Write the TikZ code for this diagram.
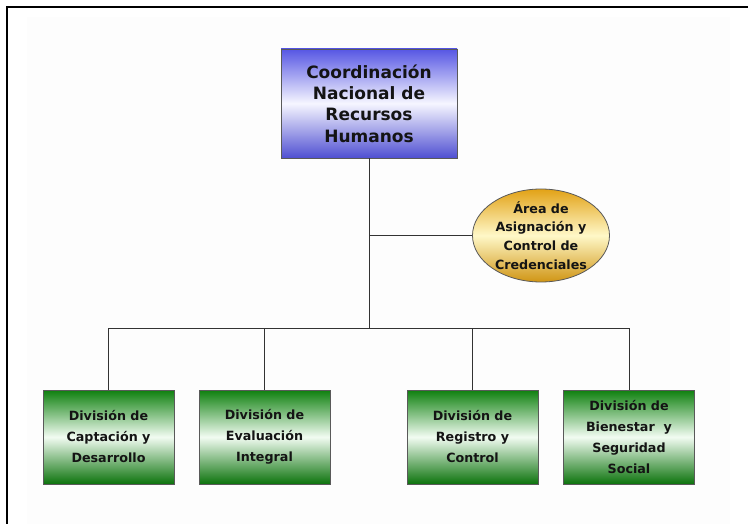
\documentclass[tikz,border=0pt]{standalone}
\usepackage{fontspec}
\setmainfont{DejaVu Sans}
\usetikzlibrary{shapes.geometric}
\definecolor{hoja}{RGB}{253,253,253}
\definecolor{azul}{RGB}{86,86,228}
\definecolor{azulclaro}{RGB}{246,246,255}
\definecolor{verde}{RGB}{14,128,14}
\definecolor{verdeclaro}{RGB}{242,252,242}
\definecolor{oro}{RGB}{226,162,22}
\definecolor{oroclaro}{RGB}{255,248,200}
\begin{document}
\begin{tikzpicture}[x=1pt,y=-1pt,
  conn/.style={draw=black!80,line width=0.8pt},
  jefe/.style={draw=black!65,line width=0.8pt,top color=azul,bottom color=azul!92!black,middle color=azulclaro,
    minimum width=176pt,minimum height=109pt,inner sep=0pt,text=black!92,align=center,
    font=\bfseries\fontsize{17}{21.3}\selectfont},
  area/.style={ellipse,draw=black!65,line width=0.8pt,top color=oro,bottom color=oro!92!black,middle color=oroclaro,
    minimum width=137pt,minimum height=93pt,inner sep=0pt},
  areatext/.style={inner sep=0pt,text=black!92,align=center,font=\bfseries\fontsize{12.7}{18.7}\selectfont},
  divi/.style={draw=black!65,line width=0.8pt,top color=verde,bottom color=verde!90!black,middle color=verdeclaro,
    minimum width=131pt,minimum height=94pt,inner sep=0pt,text=black!92,align=center,
    font=\bfseries\fontsize{12.7}{21}\selectfont}]
\useasboundingbox (0,0) rectangle (748,524);
\fill[hoja] (27,17) rectangle (730,524);
\draw[line width=2pt] (7,524) -- (7,7) -- (748,7);

% coordinacion
\node[jefe] (coord) at (369,103.5) {Coordinación\\Nacional de\\Recursos\\Humanos};
\node[area] (cred) at (541,235.5) {};
\node[areatext] (credtxt) at (cred) {Área de\\Asignación y\\Control de\\Credenciales};

% divisiones
\node[divi] (capt) at (108.5,437) {División de\\Captación y\\Desarrollo};
\node[divi] (eval) at (264.5,437) {División de\\Evaluación\\Integral};
\node[divi] (regi) at (472.5,437) {División de\\Registro y\\Control};
\node[divi] (bien) at (629,437) {División de\\Bienestar~ y\\Seguridad\\Social};

\coordinate (bus) at (369,328);
\draw[conn] (coord.south) -- (bus);
\draw[conn] (coord.south |- cred.west) -- (cred.west);
\foreach \n in {capt,eval,regi,bien}
  \draw[conn] (bus) -| (\n.north);
\end{tikzpicture}
\end{document}
